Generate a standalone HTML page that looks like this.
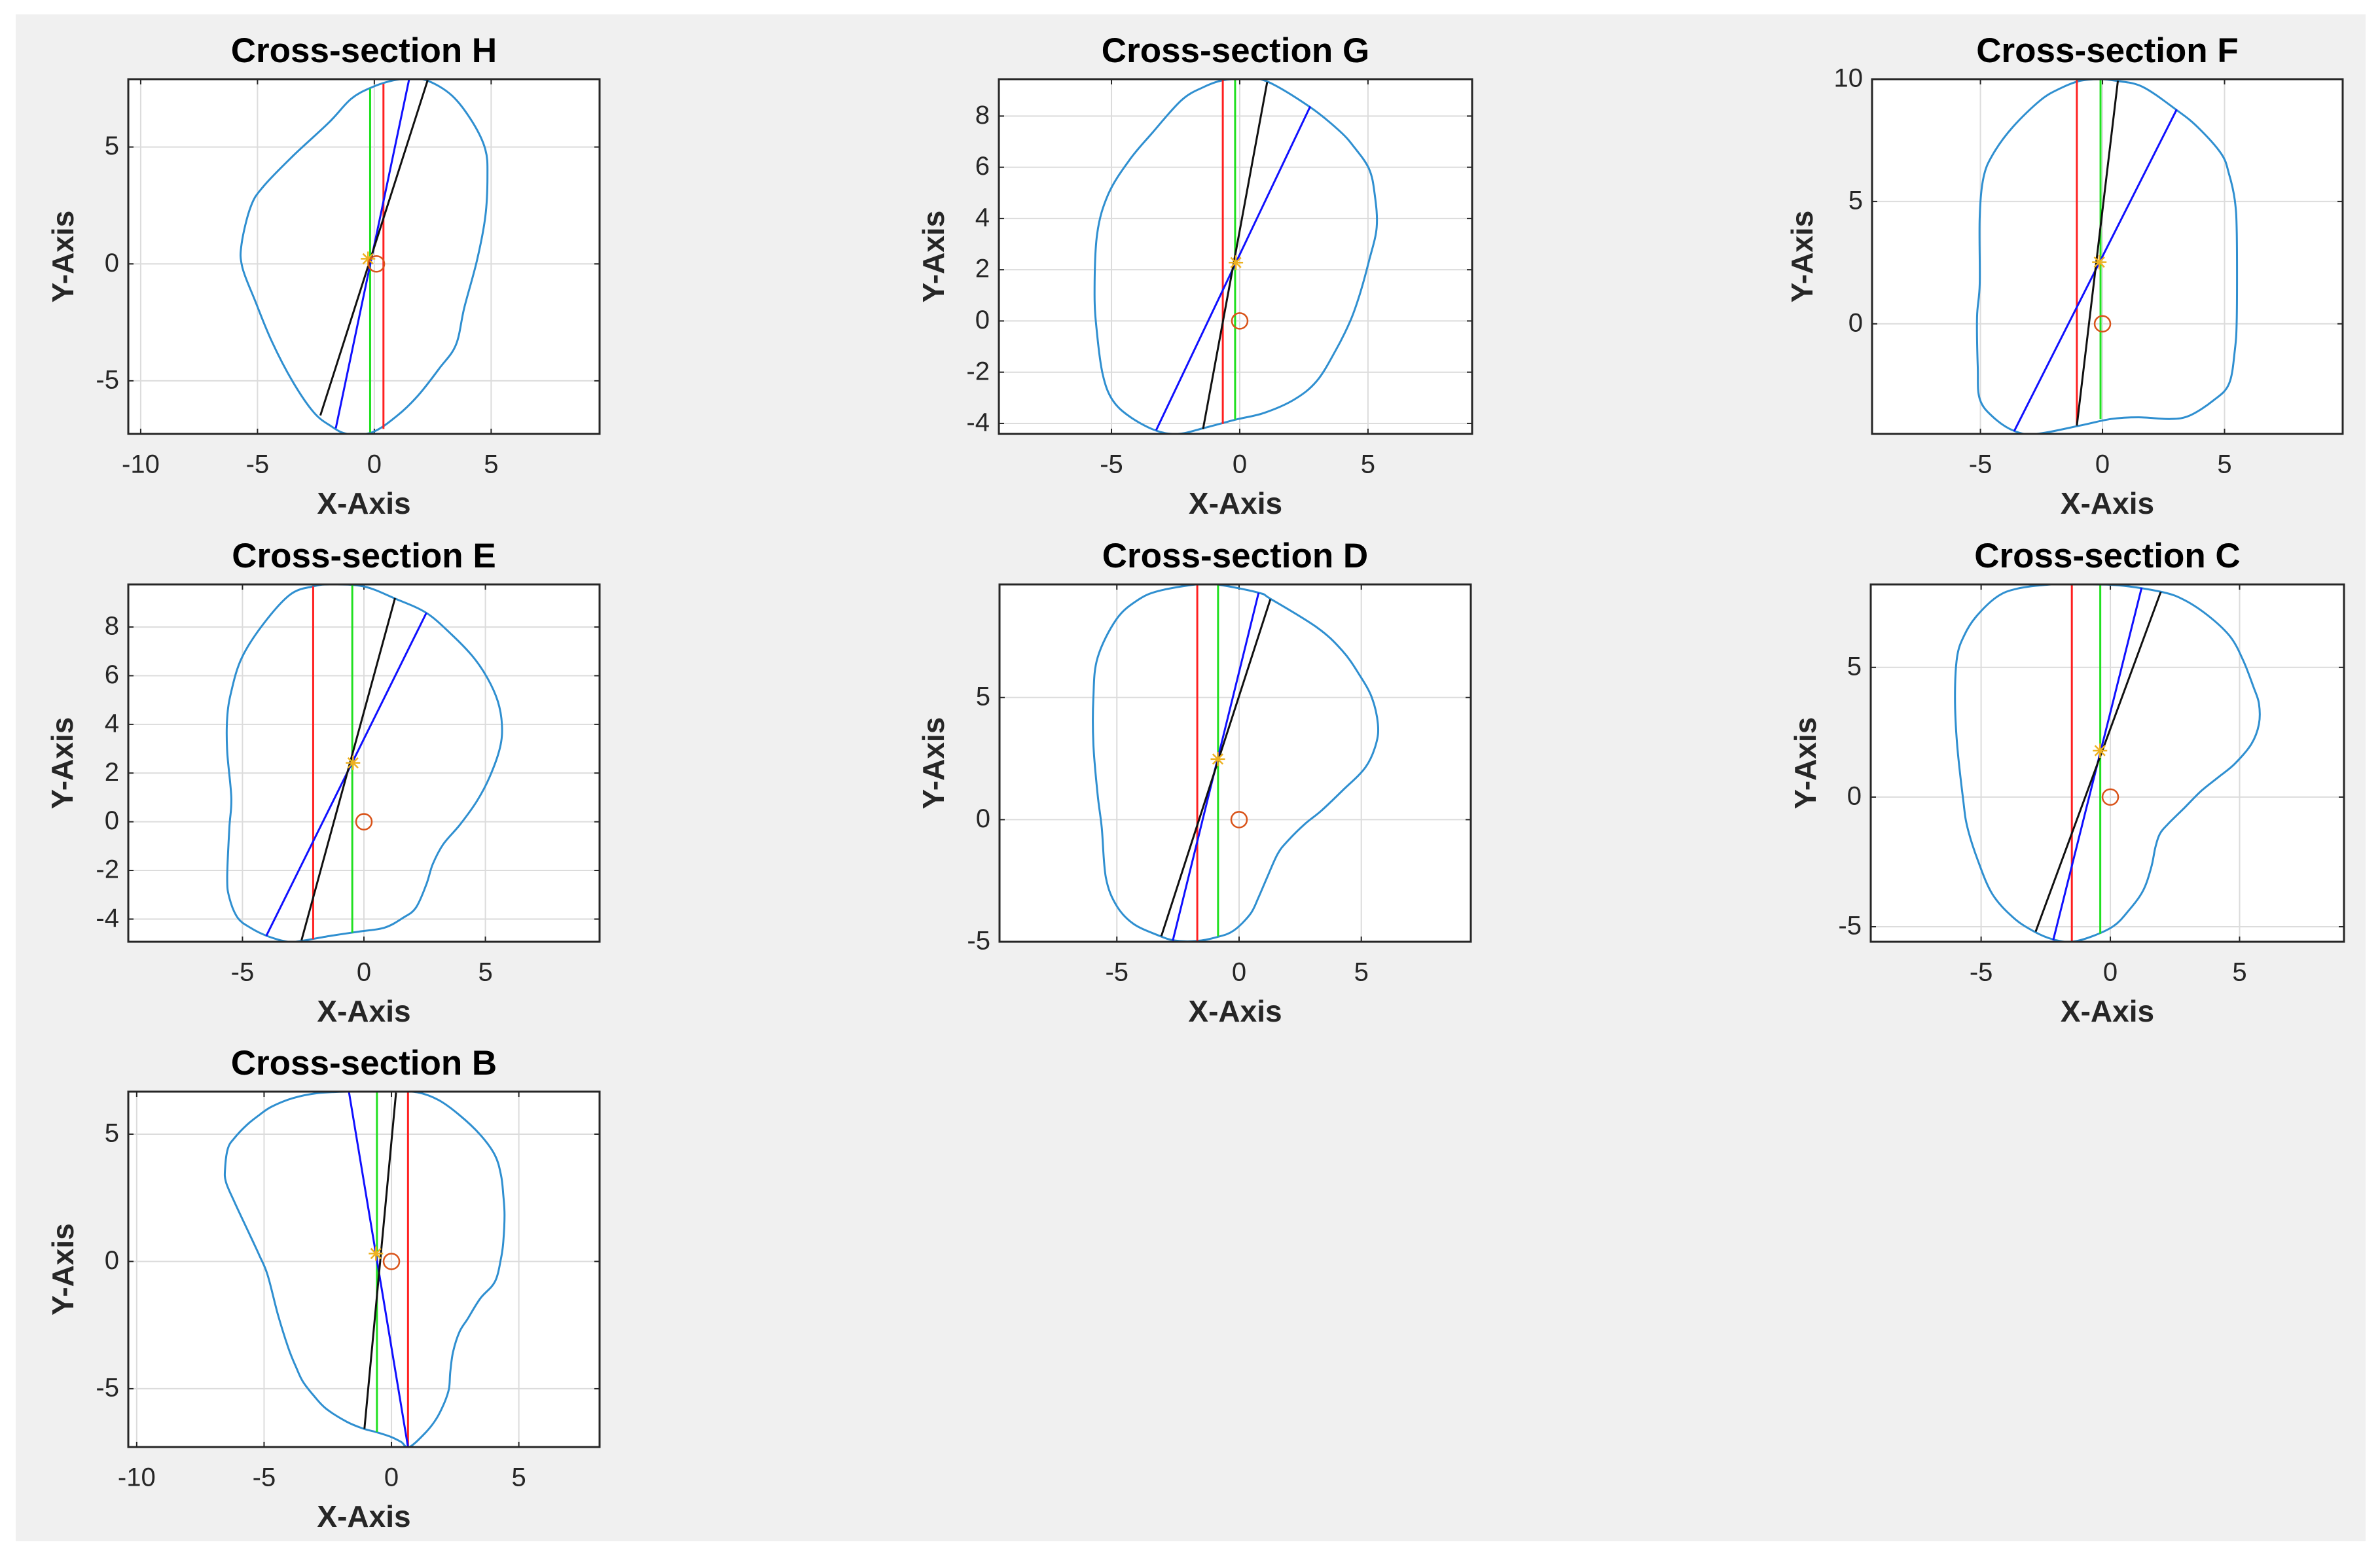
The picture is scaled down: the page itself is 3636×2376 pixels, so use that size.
<!DOCTYPE html>
<html><head><meta charset="utf-8"><style>
html,body{margin:0;padding:0;background:#fff;}
svg{display:block;font-family:"Liberation Sans",sans-serif;}
</style></head><body>
<svg id="fig" width="3636" height="2376" viewBox="0 0 3636 2376" xmlns="http://www.w3.org/2000/svg">
<rect x="24" y="22" width="3590" height="2333" fill="#f0f0f0"/>
</svg>
<script>
// ---- data (in data units) ----
const titles = ["Cross-section H","Cross-section G","Cross-section F","Cross-section E","Cross-section D","Cross-section C","Cross-section B"];
const xTicksH=[-10,-5,0,5], yTicksH=[-5,0,5];
const xTicksG=[-5,0,5], yTicksG=[-4,-2,0,2,4,6,8];
const xTicksF=[-5,0,5], yTicksF=[0,5,10];
const xTicksE=[-5,0,5], yTicksE=[-4,-2,0,2,4,6,8];
const xTicksD=[-5,0,5], yTicksD=[-5,0,5];
const xTicksC=[-5,0,5], yTicksC=[-5,0,5];
const xTicksB=[-10,-5,0,5], yTicksB=[-5,0,5];
const xLimits=[[-10.53,9.64],[-9.39,9.06],[-9.44,9.84],[-9.7,9.7],[-9.8,9.48],[-9.27,9.04],[-10.33,8.17]];
const yLimits=[[-7.27,7.9],[-4.41,9.44],[-4.5,10],[-4.93,9.75],[-5,9.63],[-5.58,8.2],[-7.29,6.67]];
const contourH=[[1.43,7.9],[2.24,7.85],[3.32,7.2],[4.21,6.05],[4.75,4.9],[4.84,3.75],[4.75,2.02],[4.39,0.14],[3.85,-1.87],[3.49,-3.46],[2.78,-4.47],[1.88,-5.62],[0.99,-6.48],[-0.09,-7.2],[-1.16,-7.27],[-1.88,-6.92],[-2.6,-6.34],[-3.49,-5.04],[-4.39,-3.31],[-5.1,-1.58],[-5.65,-0.14],[-5.68,0.86],[-5.29,2.45],[-4.75,3.31],[-3.49,4.61],[-1.94,6.05],[-0.99,7.06],[-0.09,7.56],[0.81,7.85]];
const contourG=[[0.07,9.44],[1.02,9.37],[2.7,8.38],[3.87,7.44],[4.46,6.79],[5.04,5.94],[5.26,4.96],[5.34,3.66],[5.04,2.35],[4.68,1.04],[4.31,0],[3.73,-1.17],[3.0,-2.35],[2.12,-3.07],[0.95,-3.59],[-0.15,-3.85],[-1.39,-4.18],[-2.41,-4.41],[-3.29,-4.27],[-4.31,-3.72],[-4.97,-3.07],[-5.34,-2.09],[-5.56,-0.52],[-5.66,1.04],[-5.56,3.39],[-5.12,4.96],[-4.31,6.27],[-3.44,7.31],[-2.27,8.62],[-1.39,9.14],[-0.66,9.4]];
const contourF=[[-0.13,10],[0.59,9.93],[1.64,9.69],[3.01,8.76],[3.89,8.05],[4.86,6.96],[5.18,6.14],[5.42,5.05],[5.5,3.68],[5.5,0.27],[5.42,-1.09],[5.18,-2.46],[4.53,-3.14],[3.57,-3.75],[2.77,-3.89],[1.48,-3.82],[0.35,-3.89],[-0.93,-4.16],[-2.7,-4.5],[-3.59,-4.39],[-4.47,-3.82],[-5.03,-3.07],[-5.11,-1.77],[-5.14,0.27],[-5.03,1.64],[-5.03,4.37],[-4.87,6.0],[-4.47,6.96],[-3.67,8.05],[-2.54,9.14],[-1.74,9.62],[-0.93,9.93]];
const contourE=[[-1.4,9.75],[-0.02,9.67],[1.28,9.17],[2.57,8.58],[3.61,7.69],[4.47,6.8],[5.08,5.91],[5.51,4.95],[5.68,3.99],[5.6,3.04],[5.16,1.81],[4.65,0.85],[3.96,-0.11],[3.26,-0.93],[2.83,-1.75],[2.57,-2.57],[2.14,-3.53],[1.62,-3.94],[0.85,-4.35],[-0.19,-4.51],[-1.4,-4.69],[-2.61,-4.9],[-3.13,-4.93],[-3.99,-4.69],[-4.68,-4.35],[-5.2,-3.94],[-5.54,-3.12],[-5.63,-2.3],[-5.54,-0.25],[-5.46,0.98],[-5.63,2.9],[-5.63,4.27],[-5.46,5.36],[-5.03,6.73],[-4.16,8.1],[-3.04,9.33],[-2.09,9.67]];
const contourD=[[-0.91,9.63],[0.8,9.29],[1.32,9.02],[3.2,7.86],[4.23,6.91],[4.91,5.95],[5.43,5.0],[5.68,3.91],[5.6,3.09],[5.17,2.14],[4.23,1.19],[3.37,0.37],[2.69,-0.18],[2.0,-0.86],[1.58,-1.4],[1.15,-2.36],[0.8,-3.17],[0.46,-3.86],[-0.22,-4.54],[-0.91,-4.81],[-1.76,-4.97],[-2.62,-4.95],[-3.3,-4.74],[-4.33,-4.26],[-5.02,-3.51],[-5.45,-2.36],[-5.62,-0.31],[-5.79,1.05],[-5.96,3.09],[-5.96,5.0],[-5.79,6.63],[-5.02,8.2],[-4.16,8.98],[-3.3,9.36],[-1.76,9.63]];
const contourC=[[-1.32,8.2],[0.29,8.17],[1.99,7.91],[2.88,7.59],[3.84,6.95],[4.65,6.17],[5.14,5.27],[5.54,4.24],[5.75,3.6],[5.75,2.82],[5.46,2.05],[4.81,1.28],[4.17,0.76],[3.52,0.24],[2.88,-0.4],[2.23,-1.04],[1.91,-1.43],[1.74,-1.95],[1.58,-2.72],[1.26,-3.62],[0.69,-4.4],[0.13,-4.97],[-0.68,-5.36],[-1.49,-5.58],[-2.21,-5.49],[-2.94,-5.19],[-3.75,-4.65],[-4.56,-3.75],[-5.12,-2.46],[-5.53,-1.17],[-5.69,-0.14],[-5.93,2.05],[-6.01,3.85],[-5.93,5.4],[-5.65,6.24],[-5.2,6.95],[-4.39,7.72],[-3.59,8.04],[-2.29,8.2]];
const contourB=[[-1.67,6.67],[0.21,6.67],[1.03,6.64],[1.85,6.34],[2.67,5.75],[3.49,4.97],[4.06,4.18],[4.3,3.39],[4.39,2.61],[4.44,1.82],[4.39,0.77],[4.3,0.12],[4.06,-0.8],[3.49,-1.45],[3.0,-2.24],[2.67,-2.77],[2.42,-3.55],[2.31,-4.34],[2.26,-4.99],[2.09,-5.52],[1.77,-6.17],[1.36,-6.7],[0.7,-7.29],[0.38,-7.09],[-0.03,-6.89],[-0.61,-6.7],[-1.1,-6.57],[-1.75,-6.3],[-2.57,-5.78],[-3.06,-5.26],[-3.47,-4.73],[-3.72,-4.21],[-4.04,-3.42],[-4.45,-2.11],[-4.86,-0.54],[-5.19,0.25],[-5.68,1.3],[-6.17,2.35],[-6.5,3.13],[-6.53,3.66],[-6.42,4.44],[-6.17,4.84],[-5.68,5.36],[-5.19,5.75],[-4.7,6.08],[-3.88,6.41],[-2.9,6.61]];
const redLines=[[0.39,7.7,0.39,-7.06],[-0.66,9.44,-0.66,-4.02],[-1.05,10,-1.05,-4.16],[-2.09,9.67,-2.09,-4.83],[-1.71,9.63,-1.71,-4.97],[-1.49,8.2,-1.49,-5.58],[0.65,6.67,0.65,-7.29]];
const greenLines=[[-0.18,7.49,-0.18,-7.2],[-0.18,9.44,-0.18,-3.85],[-0.08,10,-0.08,-3.89],[-0.48,9.75,-0.48,-4.56],[-0.86,9.63,-0.86,-4.78],[-0.39,8.2,-0.39,-5.27],[-0.57,6.67,-0.57,-6.7]];
const blueLines=[[1.49,7.9,-1.65,-7.03],[2.75,8.38,-3.26,-4.27],[3.04,8.76,-3.62,-4.39],[2.57,8.58,-4.02,-4.69],[0.8,9.29,-2.71,-4.95],[1.21,8.07,-2.21,-5.52],[-1.67,6.67,0.65,-7.29]];
const blackLines=[[2.28,7.85,-2.31,-6.48],[1.07,9.33,-1.43,-4.22],[0.63,9.93,-1.05,-4.16],[1.28,9.19,-2.57,-4.87],[1.28,9.02,-3.18,-4.77],[1.95,7.91,-2.89,-5.19],[0.18,6.63,-1.06,-6.57]];
const starPoints=[[-0.27,0.22],[-0.15,2.28],[-0.13,2.52],[-0.45,2.42],[-0.87,2.48],[-0.4,1.79],[-0.61,0.31]];
const circlePoints=[[0.09,0],[0,0],[0,0],[0,0],[0,0],[0,0],[0,0]];

// ---- layout ----
const boxes=[[196,121,916,663],[1526,121,2249,663],[2860,121,3579,663],[196,893,916,1439],[1527,893,2247,1439],[2858,893,3581,1439],[196,1668,916,2211]];
const ylabOff=[96,96,103,97,97,96,96];
const xTicksAll=[xTicksH,xTicksG,xTicksF,xTicksE,xTicksD,xTicksC,xTicksB];
const yTicksAll=[yTicksH,yTicksG,yTicksF,yTicksE,yTicksD,yTicksC,yTicksB];
const contours=[contourH,contourG,contourF,contourE,contourD,contourC,contourB];
const keys=["h","g","f","e","d","c","b"];
const NS="http://www.w3.org/2000/svg";
const svg=document.getElementById('fig');
function mk(tag,attrs,parent){const e=document.createElementNS(NS,tag);for(const k in attrs)e.setAttribute(k,attrs[k]);(parent||svg).appendChild(e);return e;}
function smoothClosed(P){
  const n=P.length;let d=`M${P[0][0].toFixed(1)},${P[0][1].toFixed(1)}`;
  for(let j=0;j<n;j++){
    const p0=P[(j-1+n)%n],p1=P[j],p2=P[(j+1)%n],p3=P[(j+2)%n],t=0.17;
    const c1=[p1[0]+(p2[0]-p0[0])*t,p1[1]+(p2[1]-p0[1])*t];
    const c2=[p2[0]-(p3[0]-p1[0])*t,p2[1]-(p3[1]-p1[1])*t];
    d+=`C${c1[0].toFixed(1)},${c1[1].toFixed(1)} ${c2[0].toFixed(1)},${c2[1].toFixed(1)} ${p2[0].toFixed(1)},${p2[1].toFixed(1)}`;
  }
  return d+'Z';
}

for(let i=0;i<7;i++){
  const [L,T,R,B]=boxes[i], xl=xLimits[i], yl=yLimits[i], k=keys[i];
  const sx=v=>L+(v-xl[0])/(xl[1]-xl[0])*(R-L);
  const sy=v=>B-(v-yl[0])/(yl[1]-yl[0])*(B-T);
  const g=mk('g',{});
  
  
  const bg=mk('rect',{x:L,y:T,width:R-L,height:B-T,fill:'#fff'},g);
  
  
  const clipId='clip'+i;
  const cp=mk('clipPath',{id:clipId},g); mk('rect',{x:L,y:T,width:R-L,height:B-T},cp);
  xTicksAll[i].forEach(t=>{
    const x=sx(t);
    const gl=mk('line',{x1:x,y1:T,x2:x,y2:B,stroke:'#dcdcdc','stroke-width':2},g);
    
    
    mk('line',{x1:x,y1:B,x2:x,y2:B-8,stroke:'#262626','stroke-width':2},g);
    mk('line',{x1:x,y1:T,x2:x,y2:T+8,stroke:'#262626','stroke-width':2},g);
    const tl=mk('text',{x:x,y:B+49,'text-anchor':'middle','dominant-baseline':'middle','font-size':40,fill:'#262626'},g);
    tl.textContent=String(t);
    
    
  });
  yTicksAll[i].forEach(t=>{
    const y=sy(t);
    const gl=mk('line',{x1:L,y1:y,x2:R,y2:y,stroke:'#dcdcdc','stroke-width':2},g);
    
    
    mk('line',{x1:L,y1:y,x2:L+8,y2:y,stroke:'#262626','stroke-width':2},g);
    mk('line',{x1:R,y1:y,x2:R-8,y2:y,stroke:'#262626','stroke-width':2},g);
    const tl=mk('text',{x:L-14,y:y+1,'text-anchor':'end','dominant-baseline':'middle','font-size':40,fill:'#262626'},g);
    tl.textContent=String(t);
    
    
  });
  const cg=mk('g',{'clip-path':'url(#'+clipId+')'},g);
  const P=contours[i].map(p=>[sx(p[0]),sy(p[1])]);
  const pl=mk('path',{d:smoothClosed(P),fill:'none',stroke:'#2f8fd0','stroke-width':3,'stroke-linejoin':'round'},cg);
  
  
  const segs=[[redLines,'#ff2020','red-line'],[greenLines,'#20e020','green-line'],[blueLines,'#1010ff','blue-line'],[blackLines,'#111','black-line']];
  segs.forEach(([arr,col,nm])=>{
    const s=arr[i];
    const ln=mk('line',{x1:sx(s[0]),y1:sy(s[1]),x2:sx(s[2]),y2:sy(s[3]),stroke:col,'stroke-width':3},cg);
    
    
  });
  const sp=starPoints[i], cx=sx(sp[0]), cy=sy(sp[1]), r=11;
  const st=mk('path',{d:`M${cx-r},${cy}H${cx+r}M${cx},${cy-r}V${cy+r}M${cx-r*0.7},${cy-r*0.7}L${cx+r*0.7},${cy+r*0.7}M${cx-r*0.7},${cy+r*0.7}L${cx+r*0.7},${cy-r*0.7}`,stroke:'#EDB120','stroke-width':2.5,fill:'none'},g);
  
  
  const cpnt=circlePoints[i];
  const ci=mk('circle',{cx:sx(cpnt[0]),cy:sy(cpnt[1]),r:12,fill:'none',stroke:'#D95319','stroke-width':2.5},g);
  
  
  const bx=mk('rect',{x:L,y:T,width:R-L,height:B-T,fill:'none',stroke:'#262626','stroke-width':3},g);
  
  
  const ti=mk('text',{x:(L+R)/2,y:T-40,'text-anchor':'middle','dominant-baseline':'middle','font-size':53,'font-weight':'bold',fill:'#000'},g);
  ti.textContent=titles[i];
  
  
  const xlb=mk('text',{x:(L+R)/2,y:B+110,'text-anchor':'middle','dominant-baseline':'middle','font-size':46,'font-weight':'bold',fill:'#262626'},g);
  xlb.textContent='X-Axis';
  
  
  const yx=L-ylabOff[i], yy=(T+B)/2;
  const ylb=mk('text',{x:yx,y:yy,'text-anchor':'middle','dominant-baseline':'middle','font-size':46,'font-weight':'bold',fill:'#262626',transform:`rotate(-90 ${yx} ${yy})`},g);
  ylb.textContent='Y-Axis';
  
  
}
</script>
</body></html>
